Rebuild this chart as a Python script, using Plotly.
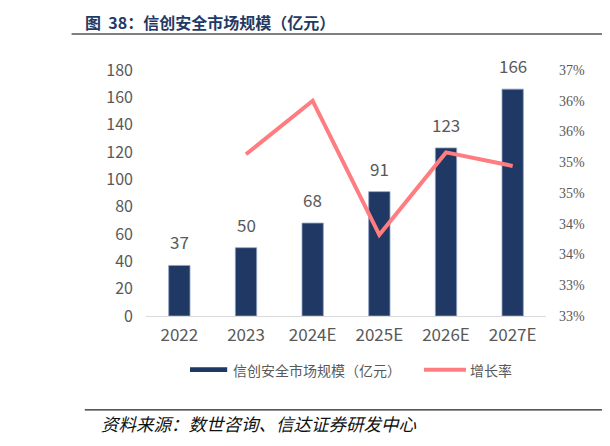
import plotly.graph_objects as go

years = ["2022", "2023", "2024E", "2025E", "2026E", "2027E"]
market_size = [37, 50, 68, 91, 123, 166]          # 亿元
growth_rate = [None, 35.13, 36.0, 33.82, 35.16, 34.94]   # %

left_ticks = [0, 20, 40, 60, 80, 100, 120, 140, 160, 180]
rate_ticks = [32.5, 33.0, 33.5, 34.0, 34.5, 35.0, 35.5, 36.0, 36.5]
rate_labels = ["33%", "33%", "34%", "34%", "35%", "35%", "36%", "36%", "37%"]

NAVY = "#203864"
PINK = "#FF7C80"
GREY = "#595959"
CJK = "Noto Sans CJK SC"

fig = go.Figure()
fig.add_trace(go.Bar(
    x=years, y=market_size, name="信创安全市场规模（亿元）",
    marker=dict(color=NAVY, line=dict(color="#8FA3C7", width=0.8)),
    width=0.32,
    showlegend=False,
))
fig.add_trace(go.Scatter(
    x=years, y=growth_rate, name="增长率", yaxis="y2",
    mode="lines", line=dict(color=PINK, width=4),
    showlegend=False,
))

# value labels above the bars (x given as category index, "2022" would be read as a number)
for i, v in enumerate(market_size):
    fig.add_annotation(x=i, y=v, text=str(v), showarrow=False, yanchor="bottom", yshift=9,
                       font=dict(family=CJK, size=17, color=GREY))

# page has an 8px body margin, so margins are shifted to compensate
fig.update_layout(
    width=610, height=446,
    margin=dict(l=138, r=72, t=62, b=138, autoexpand=False),
    paper_bgcolor="white", plot_bgcolor="white",
    font=dict(family=CJK, color=GREY),
    xaxis=dict(
        type="category", range=[-0.5, 5.5],
        showgrid=False, showline=True, linecolor="#D9D9D9", linewidth=1.2,
        ticks="", tickfont=dict(size=17, color=GREY), ticklabelstandoff=3,
    ),
    yaxis=dict(
        range=[0, 180], tickvals=left_ticks, showgrid=False, zeroline=False,
        tickfont=dict(size=16, color=GREY), ticklabelstandoff=12,
    ),
    yaxis2=dict(
        overlaying="y", side="right", range=[32.5, 36.5],
        tickvals=rate_ticks, ticktext=rate_labels,
        showgrid=False, zeroline=False,
        tickfont=dict(family="Liberation Sans Narrow", size=14, color=GREY),
        ticklabelstandoff=12,
    ),
)

# title and rules
fig.add_annotation(
    xref="paper", yref="paper", x=-0.158, y=1.195, xanchor="left", yanchor="middle",
    text="<b>图  38：信创安全市场规模（亿元）</b>", showarrow=False,
    font=dict(family=CJK, size=16, color="#1F3A64"),
)
fig.add_shape(type="line", xref="paper", yref="paper", x0=-0.186, x1=1.2, y0=1.146, y1=1.146,
              line=dict(color="#555555", width=1.5))
fig.add_shape(type="line", xref="paper", yref="paper", x0=-0.153, x1=1.2, y0=-0.382, y1=-0.382,
              line=dict(color="#222222", width=1.2))
fig.add_annotation(
    xref="paper", yref="paper", x=-0.118, y=-0.435, xanchor="left", yanchor="middle",
    text="<i>资料来源：数世咨询、信达证券研发中心</i>", showarrow=False,
    font=dict(family=CJK, size=17.5, color="#111111"),
)

# legend
fig.add_shape(type="rect", xref="paper", yref="paper", x0=0.110, x1=0.203, y0=-0.208, y1=-0.228,
              fillcolor=NAVY, line=dict(width=0))
fig.add_annotation(xref="paper", yref="paper", x=0.213, y=-0.218, xanchor="left", yanchor="middle",
                   text="信创安全市场规模（亿元）", showarrow=False, font=dict(size=14, color=GREY))
fig.add_shape(type="line", xref="paper", yref="paper", x0=0.695, x1=0.800, y0=-0.218, y1=-0.218,
              line=dict(color=PINK, width=4))
fig.add_annotation(xref="paper", yref="paper", x=0.805, y=-0.218, xanchor="left", yanchor="middle",
                   text="增长率", showarrow=False, font=dict(size=14, color=GREY))

fig.write_html("out.html")
